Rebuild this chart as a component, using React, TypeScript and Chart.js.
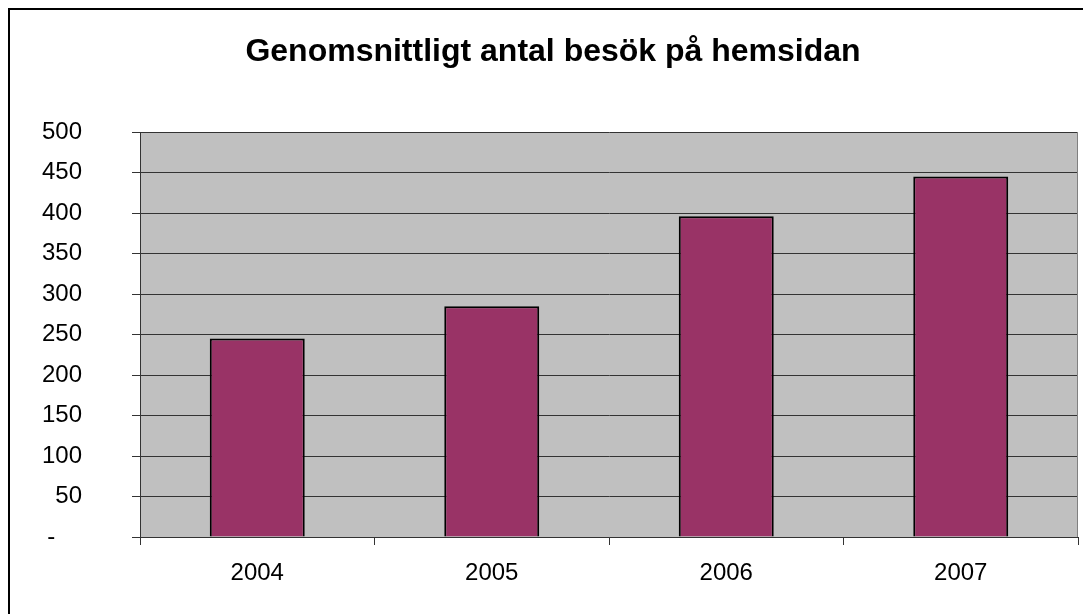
import React, { useEffect, useRef } from "react";
import { Chart, registerables } from "chart.js";

Chart.register(...registerables);

const categories = ["2004", "2005", "2006", "2007"];
const visits = [245, 285, 396, 445];
const yMin = 0;
const yMax = 500;
const yStep = 50;
const titleText = "Genomsnittligt antal besök på hemsidan";

const FONT = "'Liberation Sans', Arial, sans-serif";

const plotBackground = {
  id: "plotBackground",
  beforeDraw(chart: any) {
    const { ctx, chartArea } = chart;
    const { left, top, right, bottom } = chartArea;
    ctx.save();
    ctx.fillStyle = "#C0C0C0";
    ctx.fillRect(left, top, right - left, bottom - top);
    ctx.restore();
  },
  afterDraw(chart: any) {
    const { ctx, chartArea } = chart;
    const { top, right, bottom } = chartArea;
    ctx.save();
    ctx.strokeStyle = "#808080";
    ctx.lineWidth = 1;
    ctx.beginPath();
    ctx.moveTo(Math.round(right) - 0.5, top);
    ctx.lineTo(Math.round(right) - 0.5, bottom);
    ctx.stroke();
    ctx.restore();
  },
};

export default function App() {
  const canvasRef = useRef<HTMLCanvasElement | null>(null);

  useEffect(() => {
    const canvas = canvasRef.current;
    if (!canvas) return;
    const chart = new Chart(canvas, {
      type: "bar",
      data: {
        labels: categories,
        datasets: [
          {
            label: "Besök",
            data: visits,
            backgroundColor: "#993366",
            borderColor: "#000000",
            borderWidth: 2,
            categoryPercentage: 1,
            barPercentage: 0.405,
          },
        ],
      },
      options: {
        responsive: false,
        animation: false,
        devicePixelRatio: 1,
        layout: { padding: { left: 28, right: 5, top: 0, bottom: 0 } },
        plugins: {
          legend: { display: false },
          tooltip: { enabled: false },
          title: {
            display: true,
            text: titleText,
            color: "#000000",
            font: { family: FONT, size: 32, weight: "bold", lineHeight: 1.2 },
            padding: { top: 33, bottom: 60.6 },
          },
        },
        scales: {
          x: {
            grid: {
              display: true,
              drawOnChartArea: false,
              drawTicks: true,
              tickLength: 8,
              color: "#333333",
              offset: true,
            },
            border: { display: true, color: "#333333", width: 1 },
            ticks: {
              color: "#000000",
              font: { family: FONT, size: 24 },
              padding: 14,
              maxRotation: 0,
            },
            afterFit(scale: any) {
              scale.height = 77;
            },
          },
          y: {
            min: yMin,
            max: yMax,
            grid: {
              display: true,
              drawOnChartArea: true,
              drawTicks: true,
              tickLength: 8,
              color: "#333333",
            },
            border: { display: true, color: "#333333", width: 1 },
            ticks: {
              stepSize: yStep,
              color: "#000000",
              font: { family: FONT, size: 24 },
              padding: 50,
              callback: (v: any) => (Number(v) === 0 ? "-    " : String(v)),
            },
            afterFit(scale: any) {
              scale.width = 112;
            },
          },
        },
      },
      plugins: [plotBackground],
    });
    return () => chart.destroy();
  }, []);

  return (
    <div style={{ position: "fixed", left: 0, top: 0, width: 1083, height: 614, background: "#ffffff", overflow: "hidden" }}>
      <div
        style={{
          position: "absolute",
          left: 8,
          top: 8,
          width: 1200,
          height: 800,
          borderTop: "2px solid #000000",
          borderLeft: "2px solid #000000",
        }}
      />
      <canvas
        ref={canvasRef}
        width={1083}
        height={614}
        style={{ position: "absolute", left: 0, top: 0, width: 1083, height: 614, display: "block" }}
      />
    </div>
  );
}
